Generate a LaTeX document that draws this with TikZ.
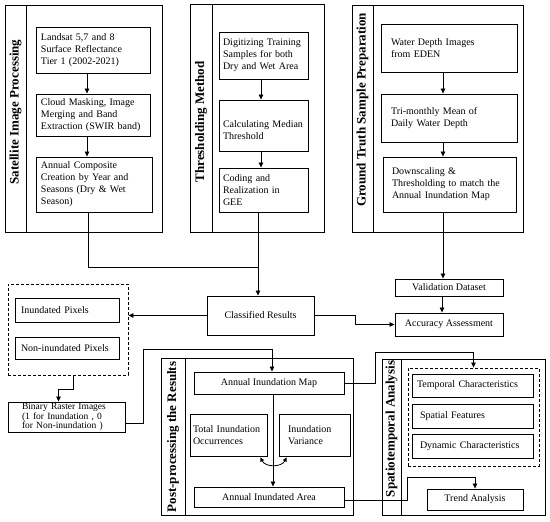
\documentclass[tikz,border=0pt]{standalone}
\usepackage{fontspec}
\setmainfont{Liberation Serif}
\usetikzlibrary{arrows.meta}
\begin{document}
\begin{tikzpicture}[x=1pt,y=-1pt,
 every node/.style={font=\fontsize{10}{12}\selectfont},
 box/.style={draw, line width=0.9pt, inner xsep=5pt, inner ysep=2pt, align=left},
 cbox/.style={draw, line width=0.9pt, inner sep=2pt, align=center},
 panel/.style={draw, line width=0.9pt},
 dbox/.style={draw, line width=0.9pt, dash pattern=on 3pt off 2pt},
 title/.style={rotate=90, font=\bfseries\fontsize{13}{15}\selectfont},
 arr/.style={line width=0.8pt, -{Triangle[length=5pt,width=4.5pt]}},
 ln/.style={line width=0.8pt},
]
\useasboundingbox (0,0) rectangle (550,522);

% ---------- panels ----------
\draw[panel] (5,5) rectangle (162,232);  \draw[panel] (26,5) -- (26,232);
\node[title] (t1) at (15.5,112) {Satellite Image Processing};
\draw[panel] (190,4) rectangle (324,232); \draw[panel] (212,4) -- (212,232);
\node[title] (t2) at (201,122) {Thresholding Method};
\draw[panel] (352,5) rectangle (523,232); \draw[panel] (373,5) -- (373,232);
\node[title] (t3) at (362.5,110) {Ground Truth Sample Preparation};
\draw[panel] (161,358) rectangle (353,515); \draw[panel] (185,358) -- (185,515);
\node[title] (t4) at (173,437) {Post-processing the Results};
\draw[panel] (382,359) rectangle (545,515); \draw[panel] (401,359) -- (401,515);
\node[title] (t5) at (391.5,429) {Spatiotemporal Analysis};

% ---------- satellite ----------
\node[box, text width=104pt, minimum height=46pt] (L1) at (93,50) {Landsat 5,7 and 8\\Surface Reflectance\\Tier 1 (2002-2021)};
\node[box, text width=104pt, minimum height=42pt] (L2) at (93,115) {Cloud Masking, Image\\Merging and Band\\Extraction (SWIR band)};
\node[box, text width=106pt, minimum height=55pt] (L3) at (94,184.5) {Annual Composite\\Creation by Year and\\Seasons (Dry \& Wet\\Season)};

% ---------- thresholding ----------
\node[box, inner xsep=4pt, text width=81pt, minimum height=47pt] (T1) at (263.5,55.5) {Digitizing Training\\Samples for both\\Dry and Wet Area};
\node[box, inner xsep=4pt, text width=81pt, minimum height=51pt] (T2) at (263.5,125.5) {\rule{0pt}{16pt}Calculating Median\\Threshold};
\node[box, inner xsep=4pt, text width=81pt, minimum height=44pt] (T3) at (263.5,190) {Coding and\\Realization in\\GEE};

% ---------- ground truth ----------
\node[box, inner xsep=10pt, text width=116pt, minimum height=48pt] (G1) at (449,48) {Water Depth Images\\from EDEN};
\node[box, inner xsep=10pt, text width=116pt, minimum height=48pt] (G2) at (449,118) {Tri-monthly Mean of\\Daily Water Depth};
\node[box, inner xsep=9pt, text width=115pt, minimum height=55pt] (G3) at (449.5,184.5) {Downscaling \&\\Thresholding to match the\\Annual Inundation Map};

% ---------- middle ----------
\node[cbox, minimum width=108pt, minimum height=17pt] (V) at (449,287.5) {Validation Dataset};
\node[cbox, minimum width=108pt, minimum height=23pt] (A) at (449,324.5) {Accuracy Assessment};
\node[cbox, minimum width=107pt, minimum height=39pt] (C) at (260.5,315.5) {Classified Results};

\node[dbox, minimum width=120pt, minimum height=91pt] (D) at (68,329.5) {};
\node[box, inner xsep=6pt, text width=92pt, minimum height=24pt] (P1) at (67,310) {Inundated Pixels};
\node[box, inner xsep=6pt, text width=92pt, minimum height=22pt] (P2) at (67,348) {Non-inundated Pixels};
\node[box, inner xsep=14pt, inner ysep=0.5pt, text width=89pt, minimum height=30pt,
      font=\fontsize{9.5}{9.5}\selectfont] (B) at (66.5,417) {Binary Raster Images\\(1 for Inundation , 0\\for Non-inundation )};

% ---------- post-processing ----------
\node[cbox, minimum width=150pt, minimum height=22pt] (M) at (269,383) {Annual Inundation Map};
\node[box, inner xsep=3pt, text width=71pt, minimum height=42pt] (O) at (228.5,435) {Total Inundation\\Occurrences};
\node[box, inner xsep=9pt, text width=53pt, minimum height=42pt] (Var) at (314.5,435) {Inundation\\Variance};
\node[cbox, minimum width=150pt, minimum height=20pt] (AA) at (269,497) {Annual Inundated Area};

% ---------- spatiotemporal ----------
\node[dbox, minimum width=131pt, minimum height=98pt] (DD) at (473.5,417) {};
\node[box, inner xsep=5pt, text width=111pt, minimum height=23pt] (TC) at (472.5,385.5) {Temporal Characteristics};
\node[box, inner xsep=8pt, text width=105pt, minimum height=24pt] (SF) at (472.5,416) {Spatial Features};
\node[box, inner xsep=8pt, text width=105pt, minimum height=24pt] (DC) at (472.5,446) {Dynamic Characteristics};
\node[cbox, minimum width=96pt, minimum height=21pt] (TA) at (475,499.5) {Trend Analysis};

% ---------- connectors ----------
\draw[arr] ([xshift=-6pt]L1.south) -- ([xshift=-6pt]L1.south |- L2.north);
\draw[arr] ([xshift=-6pt]L2.south) -- ([xshift=-6pt]L2.south |- L3.north);
\draw[arr] ([xshift=-2.5pt]T1.south) -- ([xshift=-2.5pt]T1.south |- T2.north);
\draw[arr] ([xshift=-2.5pt]T2.south) -- ([xshift=-2.5pt]T2.south |- T3.north);
\draw[arr] ([xshift=-6pt]G1.south) -- ([xshift=-6pt]G1.south |- G2.north);
\draw[arr] ([xshift=-6pt]G2.south) -- ([xshift=-6pt]G2.south |- G3.north);

\coordinate (j) at (258,267);
\draw[ln] ([xshift=-6pt]L3.south) |- (j);
\draw[arr] (T3.south -| j) -- (C.north -| j);

\draw[arr] ([xshift=-6.5pt]G3.south) -- ([xshift=-6.5pt]G3.south |- V.north);
\draw[arr] ([xshift=-7pt]V.south) -- ([xshift=-7pt]V.south |- A.north);

\coordinate (c1) at (355,315.5);
\draw[arr] (C.east) -- (c1) |- (A.west);
\draw[arr] (C.west) -- (C.west -| D.east);

\coordinate (d1) at (73,389);
\draw[arr] (D.south -| d1) -- (d1) -| ([xshift=-8pt]B.north);

\coordinate (b1) at (143,349);
\draw[arr] ([yshift=-6pt]B.east) -| (b1) -| ([xshift=3pt]M.north);

\draw[arr] ([xshift=4pt]M.south) -- ([xshift=4pt]M.south |- AA.north);
\draw[line width=0.8pt, {Triangle[length=4pt,width=4pt]}-{Triangle[length=4pt,width=4pt]}]
  ([shift={(-7pt,-1pt)}]O.south east) .. controls +(5,10) and +(-5,10) .. ([shift={(8pt,-1pt)}]Var.south west);

\coordinate (m1) at (375,352);
\draw[arr] (M.east) -| (m1) -| (DD.north);
\coordinate (a1) at (407,477);
\draw[arr] ([yshift=-3pt]AA.east) -| (a1) -| (TA.north);
\end{tikzpicture}
\end{document}
